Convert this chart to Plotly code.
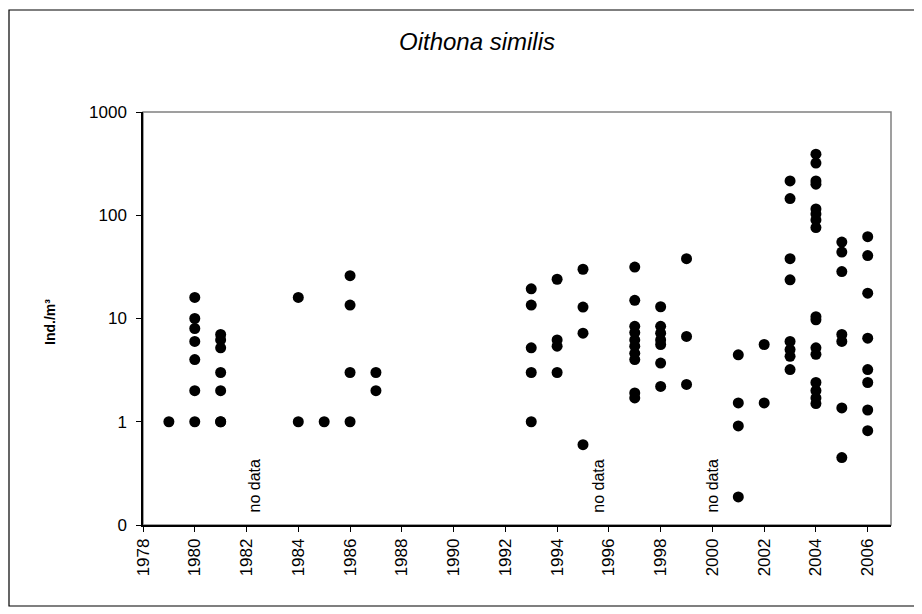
import plotly.graph_objects as go

# ---- data ----
years_1979 = [1979]
vals_1979 = [1]
years_1980 = [1980] * 7
vals_1980 = [16, 10, 8, 6, 4, 2, 1]
years_1981 = [1981] * 7
vals_1981 = [7, 6.2, 5.2, 3, 2, 1, 1]
years_1984 = [1984] * 2
vals_1984 = [16, 1]
years_1985 = [1985]
vals_1985 = [1]
years_1986 = [1986] * 4
vals_1986 = [26, 13.5, 3, 1]
years_1987 = [1987] * 2
vals_1987 = [3, 2]
years_1993 = [1993] * 5
vals_1993 = [19.4, 13.5, 5.2, 3, 1]
years_1994 = [1994] * 4
vals_1994 = [24, 6.2, 5.4, 3]
years_1995 = [1995] * 4
vals_1995 = [30, 12.9, 7.2, 0.6]
years_1997 = [1997] * 10
vals_1997 = [31.5, 15, 8.4, 7.3, 6.2, 5.4, 4.6, 4.0, 1.9, 1.7]
years_1998 = [1998] * 7
vals_1998 = [13, 8.4, 7.2, 6.2, 5.6, 3.7, 2.2]
years_1999 = [1999] * 3
vals_1999 = [38, 6.7, 2.3]
years_2001 = [2001] * 4
vals_2001 = [4.45, 1.52, 0.91, 0.187]
years_2002 = [2002] * 2
vals_2002 = [5.6, 1.52]
years_2003 = [2003] * 8
vals_2003 = [215, 145, 38, 23.7, 6.0, 5.0, 4.3, 3.2]
years_2004 = [2004] * 16
vals_2004 = [390, 320, 215, 200, 115, 103, 90, 76, 10.4, 9.7, 5.2, 4.5, 2.4, 2.0, 1.7, 1.5]
years_2005 = [2005] * 7
vals_2005 = [55, 44, 28.5, 7.0, 6.0, 1.36, 0.45]
years_2006 = [2006] * 8
vals_2006 = [62, 40.7, 17.6, 6.45, 3.2, 2.4, 1.3, 0.82]

x_all = (years_1979 + years_1980 + years_1981 + years_1984 + years_1985 + years_1986 +
         years_1987 + years_1993 + years_1994 + years_1995 + years_1997 + years_1998 +
         years_1999 + years_2001 + years_2002 + years_2003 + years_2004 + years_2005 + years_2006)
y_all = (vals_1979 + vals_1980 + vals_1981 + vals_1984 + vals_1985 + vals_1986 +
         vals_1987 + vals_1993 + vals_1994 + vals_1995 + vals_1997 + vals_1998 +
         vals_1999 + vals_2001 + vals_2002 + vals_2003 + vals_2004 + vals_2005 + vals_2006)

no_data_years = [1982.3, 1995.6, 2000.0]
no_data_label = "no data"

ytick_vals = [0.1, 1, 10, 100, 1000]
ytick_text = ["0", "1", "10", "100", "1000"]

title_text = "Oithona similis"
ylabel_text = "Ind./m³"

# ---- figure (page body adds an 8px offset) ----
OFF = 8
W, H = 922 - OFF, 614 - OFF
L, T = 143 - OFF, 112 - OFF
R = W - (891 - OFF)
B = H - (525 - OFF)
pw, ph = W - L - R, H - T - B
FONT = "Liberation Sans, Arial, sans-serif"

def px_x(p):
    # p is a screen pixel x
    return (p - OFF - L) / pw

def px_y(p):
    return (H - B - (p - OFF)) / ph

fig = go.Figure()
fig.add_trace(go.Scatter(
    x=x_all, y=y_all, mode="markers",
    marker=dict(color="black", size=11, line=dict(width=0)),
    showlegend=False, hoverinfo="x+y",
))

for yr in no_data_years:
    fig.add_annotation(
        x=yr, y=-0.9, xref="x", yref="y", text=no_data_label,
        textangle=-90, showarrow=False, xanchor="center", yanchor="bottom",
        font=dict(family=FONT, size=16, color="black"),
    )

# y-axis title
fig.add_annotation(
    x=px_x(50), y=px_y(322), xref="paper", yref="paper", text="<b>" + ylabel_text + "</b>",
    textangle=-90, showarrow=False, xanchor="center", yanchor="middle",
    font=dict(family=FONT, size=14, color="black"),
)

# plot-area gray frame
fig.add_shape(type="rect", xref="paper", yref="paper", x0=0, x1=1, y0=0, y1=1,
              line=dict(color="#808080", width=1.5), layer="below")
# outer chart border
fig.add_shape(type="rect", xref="paper", yref="paper",
              x0=px_x(9), x1=px_x(916), y0=px_y(606), y1=px_y(10),
              line=dict(color="black", width=1.2), layer="below")

fig.update_layout(
    width=W, height=H,
    margin=dict(l=L, r=R, t=T, b=B),
    paper_bgcolor="white", plot_bgcolor="white",
    font=dict(family=FONT, color="black"),
    title=dict(text=title_text, x=(477 - OFF) / W, y=1 - (42 - OFF) / H,
               xanchor="center", yanchor="middle",
               font=dict(family=FONT, size=24, color="black", style="italic")),
)
fig.update_xaxes(
    range=[1978, 2006.9], tick0=1978, dtick=2, tickangle=-90,
    ticks="outside", ticklen=5, tickcolor="black", tickwidth=1,
    showline=True, linecolor="black", linewidth=1.5, showgrid=False, zeroline=False,
    tickfont=dict(family=FONT, size=17, color="black"),
)
fig.update_yaxes(
    type="log", range=[-1, 3], tickvals=ytick_vals, ticktext=ytick_text,
    ticks="outside", ticklen=5, tickcolor="black", tickwidth=1,
    showline=True, linecolor="black", linewidth=1.5, showgrid=False, zeroline=False,
    tickfont=dict(family=FONT, size=17, color="black"), ticklabelstandoff=6,
)

fig.write_html("out.html")
